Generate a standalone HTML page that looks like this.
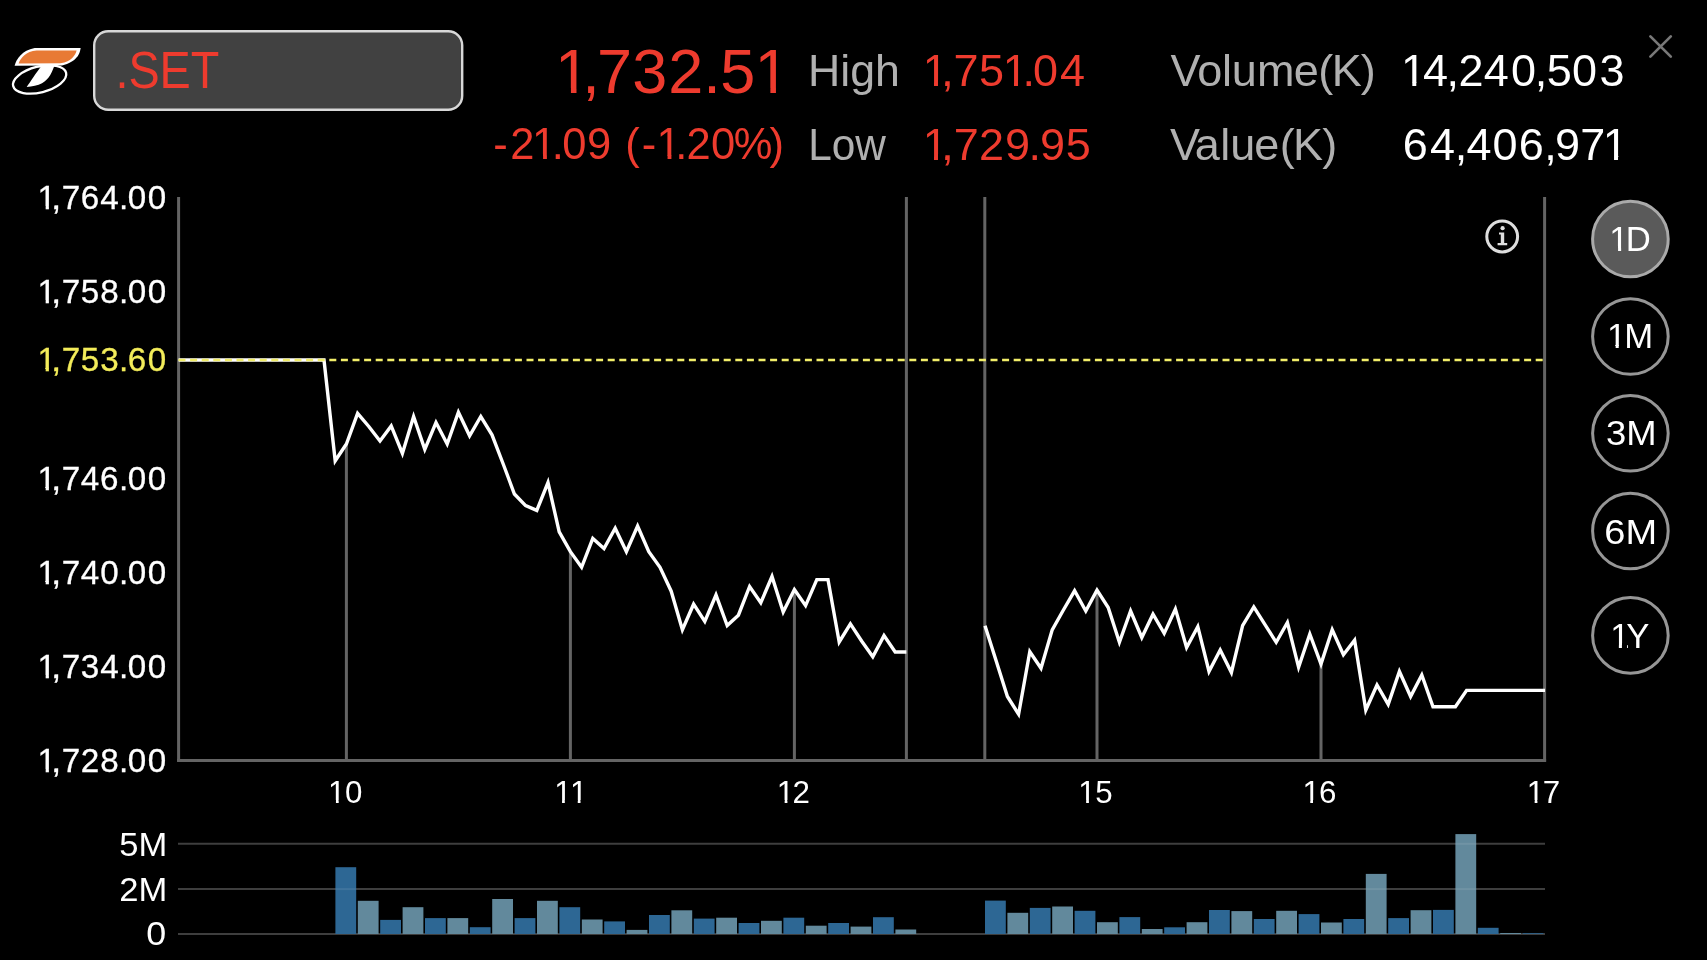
<!DOCTYPE html>
<html><head><meta charset="utf-8"><title>SET Chart</title>
<style>
html,body{margin:0;padding:0;background:#000;width:1707px;height:960px;overflow:hidden}
svg{display:block;font-family:"Liberation Sans", sans-serif;will-change:transform}
</style></head><body>
<svg width="1707" height="960" viewBox="0 0 1707 960">
<rect width="1707" height="960" fill="#000"/>
<g id="logo">
<path d="M34.6,48.1 L80.6,48.1 C80,54 76.5,62 62,65.5 L14.6,65.7 C16.5,59 22,50.5 34.6,48.1 Z" fill="#ffffff"/>
<path d="M36.6,50.5 L76.6,50.5 C75.5,55 71.5,61.5 60.5,63.3 L18.6,63.4 C20.5,58 26,51.2 36.6,50.5 Z" fill="#e87a35"/>
<ellipse cx="39.66" cy="79.48" rx="27.26" ry="12.93" transform="rotate(-14.1 39.66 79.48)" fill="none" stroke="#ffffff" stroke-width="2.3"/>
<path d="M41.9,65.2 L54.6,65.2 C52,72 49.5,79 42,83.2 C38,85.4 32,86.6 26.7,86.9 C30.5,81.5 36,73 41.9,65.2 Z" fill="#ffffff"/>
</g>
<rect x="94.2" y="31.2" width="368" height="78.6" rx="14" ry="14" fill="#414141" stroke="#d8d8d8" stroke-width="2.4"/>
<text x="115.43" y="88" font-size="51.5" fill="#ee3b2e" textLength="103.95" lengthAdjust="spacingAndGlyphs">.SET</text>
<text x="555.08 582.30 597.09 632.34 668.21 703.26 720.16 754.54" y="92.5" font-size="63" fill="#ee3b2e">1,732.51</text><rect x="558.38" y="85.29" width="11.62" height="8.71" fill="#000" shape-rendering="crispEdges"/><rect x="577.00" y="85.29" width="10.56" height="8.71" fill="#000" shape-rendering="crispEdges"/><rect x="570" y="87.79" width="1" height="6.21" fill="#000" fill-opacity="0.921" shape-rendering="crispEdges"/><rect x="576" y="87.79" width="1" height="6.21" fill="#000" fill-opacity="0.511" shape-rendering="crispEdges"/><rect x="757.84" y="85.29" width="12.16" height="8.71" fill="#000" shape-rendering="crispEdges"/><rect x="776.00" y="85.29" width="12.00" height="8.71" fill="#000" shape-rendering="crispEdges"/><rect x="770" y="87.79" width="1" height="6.21" fill="#000" fill-opacity="0.382" shape-rendering="crispEdges"/><rect x="775" y="87.79" width="1" height="6.21" fill="#000" fill-opacity="0.050" shape-rendering="crispEdges"/>
<text x="808.02" y="86" font-size="45" fill="#b0b0b0" textLength="91.94" lengthAdjust="spacingAndGlyphs">High</text>
<text x="922.69 941.15 953.56 979.03 1002.69 1022.45 1033.09 1060.03" y="86" font-size="45" fill="#ee3b2e">1,751.04</text><rect x="924.62" y="80.14" width="9.38" height="7.36" fill="#000" shape-rendering="crispEdges"/><rect x="938.00" y="80.14" width="6.79" height="7.36" fill="#000" shape-rendering="crispEdges"/><rect x="1004.62" y="80.14" width="9.38" height="7.36" fill="#000" shape-rendering="crispEdges"/><rect x="1018.00" y="80.14" width="8.16" height="7.36" fill="#000" shape-rendering="crispEdges"/>
<text x="1170.39 1197.19 1221.99 1231.82 1257.05 1293.83 1318.34 1331.70 1360.87" y="86" font-size="45" fill="#b0b0b0">Volume(K)</text>
<text x="1400.99 1422.93 1446.55 1458.49 1483.63 1511.09 1534.85 1546.83 1572.09 1599.52" y="86.3" font-size="45" fill="#ffffff">14,240,503</text><rect x="1402.92" y="80.44" width="9.08" height="7.36" fill="#000" shape-rendering="crispEdges"/><rect x="1417.00" y="80.44" width="6.56" height="7.36" fill="#000" shape-rendering="crispEdges"/><rect x="1412" y="82.94" width="1" height="4.86" fill="#000" fill-opacity="0.305" shape-rendering="crispEdges"/><rect x="1416" y="82.94" width="1" height="4.86" fill="#000" fill-opacity="0.718" shape-rendering="crispEdges"/>
<text x="493.26 510.20 532.12 551.66 562.30 586.91 610.26 625.14 641.86 656.62 675.26 686.50 711.00 733.76 769.48" y="159.4" font-size="43.5" fill="#ee3b2e">-21.09&#160;(-1.20%)</text><rect x="533.93" y="153.65" width="9.07" height="7.25" fill="#000" shape-rendering="crispEdges"/><rect x="547.00" y="153.65" width="8.23" height="7.25" fill="#000" shape-rendering="crispEdges"/><rect x="543" y="156.15" width="1" height="4.75" fill="#000" fill-opacity="0.055" shape-rendering="crispEdges"/><rect x="546" y="156.15" width="1" height="4.75" fill="#000" fill-opacity="0.101" shape-rendering="crispEdges"/><rect x="658.43" y="153.65" width="8.57" height="7.25" fill="#000" shape-rendering="crispEdges"/><rect x="672.00" y="153.65" width="6.83" height="7.25" fill="#000" shape-rendering="crispEdges"/><rect x="667" y="156.15" width="1" height="4.75" fill="#000" fill-opacity="0.555" shape-rendering="crispEdges"/><rect x="671" y="156.15" width="1" height="4.75" fill="#000" fill-opacity="0.601" shape-rendering="crispEdges"/>
<text x="808.21" y="160.1" font-size="45" fill="#b0b0b0" textLength="77.76" lengthAdjust="spacingAndGlyphs">Low</text>
<text x="922.69 941.15 953.76 978.99 1005.10 1028.55 1040.00 1065.63" y="160" font-size="45" fill="#ee3b2e">1,729.95</text><rect x="924.62" y="154.14" width="9.38" height="7.36" fill="#000" shape-rendering="crispEdges"/><rect x="938.00" y="154.14" width="6.79" height="7.36" fill="#000" shape-rendering="crispEdges"/>
<text x="1169.99 1194.73 1220.29 1230.22 1254.33 1279.84 1293.10 1322.27" y="159.7" font-size="45" fill="#b0b0b0">Value(K)</text>
<text x="1402.70 1430.08 1454.67 1466.47 1492.61 1518.73 1544.29 1554.88 1580.19 1602.72" y="160.2" font-size="45" fill="#ffffff">64,406,971</text><rect x="1604.65" y="154.34" width="9.35" height="7.36" fill="#000" shape-rendering="crispEdges"/><rect x="1619.00" y="154.34" width="8.05" height="7.36" fill="#000" shape-rendering="crispEdges"/><rect x="1614" y="156.84" width="1" height="4.86" fill="#000" fill-opacity="0.039" shape-rendering="crispEdges"/><rect x="1618" y="156.84" width="1" height="4.86" fill="#000" fill-opacity="0.984" shape-rendering="crispEdges"/>
<text x="37.46 51.79 61.85 80.65 100.27 118.89 127.77 147.67" y="208.8" font-size="33.2" fill="#ffffff" stroke="#ffffff" stroke-width="0.3">1,764.00</text><rect x="38.49" y="203.82" width="6.51" height="6.48" fill="#000" shape-rendering="crispEdges"/><rect x="49.00" y="203.82" width="5.37" height="6.48" fill="#000" shape-rendering="crispEdges"/><rect x="45" y="206.32" width="1" height="3.98" fill="#000" fill-opacity="0.660" shape-rendering="crispEdges"/><rect x="48" y="206.32" width="1" height="3.98" fill="#000" fill-opacity="0.105" shape-rendering="crispEdges"/>
<text x="37.46 51.79 61.85 80.80 100.17 118.89 127.77 147.67" y="302.6" font-size="33.2" fill="#ffffff" stroke="#ffffff" stroke-width="0.3">1,758.00</text><rect x="38.49" y="297.62" width="6.51" height="6.48" fill="#000" shape-rendering="crispEdges"/><rect x="49.00" y="297.62" width="5.37" height="6.48" fill="#000" shape-rendering="crispEdges"/><rect x="45" y="300.12" width="1" height="3.98" fill="#000" fill-opacity="0.660" shape-rendering="crispEdges"/><rect x="48" y="300.12" width="1" height="3.98" fill="#000" fill-opacity="0.105" shape-rendering="crispEdges"/>
<text x="37.46 51.79 61.85 80.80 100.27 118.89 127.65 147.67" y="371.4" font-size="33.2" fill="#f3ec5a" stroke="#f3ec5a" stroke-width="0.3">1,753.60</text><rect x="38.49" y="366.42" width="6.51" height="6.48" fill="#000" shape-rendering="crispEdges"/><rect x="49.00" y="366.42" width="5.37" height="6.48" fill="#000" shape-rendering="crispEdges"/><rect x="45" y="368.92" width="1" height="3.98" fill="#000" fill-opacity="0.660" shape-rendering="crispEdges"/><rect x="48" y="368.92" width="1" height="3.98" fill="#000" fill-opacity="0.105" shape-rendering="crispEdges"/>
<text x="37.46 51.79 61.85 80.87 100.05 118.89 127.77 147.67" y="490.2" font-size="33.2" fill="#ffffff" stroke="#ffffff" stroke-width="0.3">1,746.00</text><rect x="38.49" y="485.22" width="6.51" height="6.48" fill="#000" shape-rendering="crispEdges"/><rect x="49.00" y="485.22" width="5.37" height="6.48" fill="#000" shape-rendering="crispEdges"/><rect x="45" y="487.72" width="1" height="3.98" fill="#000" fill-opacity="0.660" shape-rendering="crispEdges"/><rect x="48" y="487.72" width="1" height="3.98" fill="#000" fill-opacity="0.105" shape-rendering="crispEdges"/>
<text x="37.46 51.79 61.85 80.87 100.17 118.89 127.77 147.67" y="584.1" font-size="33.2" fill="#ffffff" stroke="#ffffff" stroke-width="0.3">1,740.00</text><rect x="38.49" y="579.12" width="6.51" height="6.48" fill="#000" shape-rendering="crispEdges"/><rect x="49.00" y="579.12" width="5.37" height="6.48" fill="#000" shape-rendering="crispEdges"/><rect x="45" y="581.62" width="1" height="3.98" fill="#000" fill-opacity="0.660" shape-rendering="crispEdges"/><rect x="48" y="581.62" width="1" height="3.98" fill="#000" fill-opacity="0.105" shape-rendering="crispEdges"/>
<text x="37.46 51.79 61.85 80.87 100.27 118.89 127.77 147.67" y="677.9" font-size="33.2" fill="#ffffff" stroke="#ffffff" stroke-width="0.3">1,734.00</text><rect x="38.49" y="672.92" width="6.51" height="6.48" fill="#000" shape-rendering="crispEdges"/><rect x="49.00" y="672.92" width="5.37" height="6.48" fill="#000" shape-rendering="crispEdges"/><rect x="45" y="675.42" width="1" height="3.98" fill="#000" fill-opacity="0.660" shape-rendering="crispEdges"/><rect x="48" y="675.42" width="1" height="3.98" fill="#000" fill-opacity="0.105" shape-rendering="crispEdges"/>
<text x="37.46 51.79 61.85 80.77 100.17 118.89 127.77 147.67" y="771.7" font-size="33.2" fill="#ffffff" stroke="#ffffff" stroke-width="0.3">1,728.00</text><rect x="38.49" y="766.72" width="6.51" height="6.48" fill="#000" shape-rendering="crispEdges"/><rect x="49.00" y="766.72" width="5.37" height="6.48" fill="#000" shape-rendering="crispEdges"/><rect x="45" y="769.22" width="1" height="3.98" fill="#000" fill-opacity="0.660" shape-rendering="crispEdges"/><rect x="48" y="769.22" width="1" height="3.98" fill="#000" fill-opacity="0.105" shape-rendering="crispEdges"/>
<text x="328.08 344.90" y="802.8" font-size="31.3" fill="#ffffff">10</text><rect x="328.96" y="797.96" width="6.04" height="6.34" fill="#000" shape-rendering="crispEdges"/><rect x="339.00" y="797.96" width="6.46" height="6.34" fill="#000" shape-rendering="crispEdges"/><rect x="335" y="800.46" width="1" height="3.84" fill="#000" fill-opacity="0.947" shape-rendering="crispEdges"/><rect x="338" y="800.46" width="1" height="3.84" fill="#000" fill-opacity="0.287" shape-rendering="crispEdges"/>
<text x="554.18 569.88" y="802.8" font-size="31.3" fill="#ffffff">11</text><rect x="555.06" y="797.96" width="6.94" height="6.34" fill="#000" shape-rendering="crispEdges"/><rect x="565.00" y="797.96" width="6.56" height="6.34" fill="#000" shape-rendering="crispEdges"/><rect x="562" y="800.46" width="1" height="3.84" fill="#000" fill-opacity="0.047" shape-rendering="crispEdges"/><rect x="564" y="800.46" width="1" height="3.84" fill="#000" fill-opacity="0.187" shape-rendering="crispEdges"/><rect x="570.76" y="797.96" width="6.24" height="6.34" fill="#000" shape-rendering="crispEdges"/><rect x="581.00" y="797.96" width="6.26" height="6.34" fill="#000" shape-rendering="crispEdges"/><rect x="577" y="800.46" width="1" height="3.84" fill="#000" fill-opacity="0.747" shape-rendering="crispEdges"/><rect x="580" y="800.46" width="1" height="3.84" fill="#000" fill-opacity="0.487" shape-rendering="crispEdges"/>
<text x="776.78 792.60" y="802.8" font-size="31.3" fill="#ffffff">12</text><rect x="777.66" y="797.96" width="6.34" height="6.34" fill="#000" shape-rendering="crispEdges"/><rect x="788.00" y="797.96" width="5.77" height="6.34" fill="#000" shape-rendering="crispEdges"/><rect x="784" y="800.46" width="1" height="3.84" fill="#000" fill-opacity="0.647" shape-rendering="crispEdges"/><rect x="787" y="800.46" width="1" height="3.84" fill="#000" fill-opacity="0.587" shape-rendering="crispEdges"/>
<text x="1078.28 1095.13" y="802.8" font-size="31.3" fill="#ffffff">15</text><rect x="1079.16" y="797.96" width="6.84" height="6.34" fill="#000" shape-rendering="crispEdges"/><rect x="1089.00" y="797.96" width="6.66" height="6.34" fill="#000" shape-rendering="crispEdges"/><rect x="1086" y="800.46" width="1" height="3.84" fill="#000" fill-opacity="0.147" shape-rendering="crispEdges"/><rect x="1088" y="800.46" width="1" height="3.84" fill="#000" fill-opacity="0.087" shape-rendering="crispEdges"/>
<text x="1302.38 1318.89" y="802.8" font-size="31.3" fill="#ffffff">16</text><rect x="1303.26" y="797.96" width="6.74" height="6.34" fill="#000" shape-rendering="crispEdges"/><rect x="1314.00" y="797.96" width="5.76" height="6.34" fill="#000" shape-rendering="crispEdges"/><rect x="1310" y="800.46" width="1" height="3.84" fill="#000" fill-opacity="0.247" shape-rendering="crispEdges"/><rect x="1313" y="800.46" width="1" height="3.84" fill="#000" fill-opacity="0.987" shape-rendering="crispEdges"/>
<text x="1526.78 1542.68" y="802.8" font-size="31.3" fill="#ffffff">17</text><rect x="1527.66" y="797.96" width="6.34" height="6.34" fill="#000" shape-rendering="crispEdges"/><rect x="1538.00" y="797.96" width="5.89" height="6.34" fill="#000" shape-rendering="crispEdges"/><rect x="1534" y="800.46" width="1" height="3.84" fill="#000" fill-opacity="0.647" shape-rendering="crispEdges"/><rect x="1537" y="800.46" width="1" height="3.84" fill="#000" fill-opacity="0.587" shape-rendering="crispEdges"/>
<text x="119.38" y="855.5" font-size="32.5" fill="#ffffff" textLength="48.06" lengthAdjust="spacingAndGlyphs">5M</text>
<text x="119.38" y="900.8" font-size="32.5" fill="#ffffff" textLength="48.06" lengthAdjust="spacingAndGlyphs">2M</text>
<text x="146.37" y="945.3" font-size="32.5" fill="#ffffff" textLength="19.93" lengthAdjust="spacingAndGlyphs">0</text>
<path d="M1650.4,36.4 L1670.8,56.6 M1670.8,36.4 L1650.4,56.6" stroke="#787878" stroke-width="2.7" stroke-linecap="round" fill="none"/>
<line x1="178.6" y1="197" x2="178.6" y2="761.8" stroke="#646464" stroke-width="3"/>
<line x1="1544.6" y1="197" x2="1544.6" y2="761.8" stroke="#646464" stroke-width="3"/>
<line x1="906.4" y1="197" x2="906.4" y2="760" stroke="#646464" stroke-width="3"/>
<line x1="984.8" y1="197" x2="984.8" y2="760" stroke="#646464" stroke-width="3"/>
<line x1="177.1" y1="760.5" x2="1546.1" y2="760.5" stroke="#646464" stroke-width="3"/>
<line x1="346.4" y1="444" x2="346.4" y2="760" stroke="#646464" stroke-width="3"/>
<line x1="570.4" y1="551.7" x2="570.4" y2="760" stroke="#646464" stroke-width="3"/>
<line x1="794.4" y1="589.5" x2="794.4" y2="760" stroke="#646464" stroke-width="3"/>
<line x1="1097" y1="590.2" x2="1097" y2="760" stroke="#646464" stroke-width="3"/>
<line x1="1321" y1="664" x2="1321" y2="760" stroke="#646464" stroke-width="3"/>
<polyline points="178.6,360 324.0,360.0 335.2,460.8 346.4,444.0 357.6,413.4 368.8,426.5 380.0,441.0 391.2,425.9 402.4,453.5 413.6,416.5 424.8,449.4 436.0,422.5 447.2,444.0 458.4,412.3 469.6,435.8 480.8,416.5 492.0,434.8 503.2,464.0 514.4,494.0 525.6,505.6 536.8,510.4 548.0,482.5 559.2,531.9 570.4,551.7 581.6,567.3 592.8,538.5 604.0,548.5 615.2,528.2 626.4,551.7 637.6,526.1 648.8,551.7 660.0,567.3 671.2,591.2 682.4,629.8 693.6,604.2 704.8,621.5 716.0,595.0 727.2,625.6 738.4,615.2 749.6,586.5 760.8,602.7 772.0,576.5 783.2,612.0 794.4,589.5 805.6,605.6 816.8,579.6 828.0,579.6 839.2,642.0 850.4,623.9 861.6,641.0 872.8,656.7 884.0,635.6 895.2,652.0 906.4,652.0" fill="none" stroke="#ffffff" stroke-width="3.4" stroke-linejoin="miter"/>
<polyline points="985.0,625.7 996.2,661.0 1007.4,696.5 1018.6,714.2 1029.8,651.7 1041.0,668.3 1052.2,629.8 1063.4,610.0 1074.6,590.8 1085.8,611.0 1097.0,590.2 1108.2,607.5 1119.4,642.3 1130.6,611.0 1141.8,637.5 1153.0,614.2 1164.2,633.4 1175.4,609.0 1186.6,647.5 1197.8,626.7 1209.0,671.5 1220.2,650.0 1231.4,672.5 1242.6,625.6 1253.8,606.9 1265.0,624.6 1276.2,642.3 1287.4,622.5 1298.6,667.3 1309.8,634.0 1321.0,664.0 1332.2,629.8 1343.4,654.8 1354.6,640.2 1365.8,710.0 1377.0,685.0 1388.2,704.3 1399.4,671.5 1410.6,696.5 1421.8,674.9 1433.0,706.7 1444.2,706.7 1455.4,706.7 1466.6,690.4 1477.8,690.4 1489.0,690.4 1500.2,690.4 1511.4,690.4 1522.6,690.4 1533.8,690.4 1545.0,690.4" fill="none" stroke="#ffffff" stroke-width="3.4" stroke-linejoin="miter"/>
<line x1="178.5" y1="360" x2="1544" y2="360" stroke="#f2ee6a" stroke-width="2.7" stroke-dasharray="7,4.6"/>
<circle cx="1502.2" cy="236.5" r="15.4" fill="none" stroke="#dedede" stroke-width="3"/>
<circle cx="1502.6" cy="228.2" r="2.1" fill="#dedede"/>
<path d="M1499,232.6 L1504.2,232.6 L1504.2,243 L1507.2,243 L1507.2,245.2 L1497.6,245.2 L1497.6,243 L1500.8,243 L1500.8,234.6 L1499,234.6 Z" fill="#dedede"/>
<circle cx="1630.4" cy="239" r="37.8" fill="#5a5a5a" stroke="#aaaaaa" stroke-width="3"/>
<text x="1609.33 1625.68" y="250.9" font-size="34.7" fill="#ffffff">1D</text><rect x="1610.48" y="245.81" width="7.52" height="6.59" fill="#5a5a5a" shape-rendering="crispEdges"/><rect x="1622.00" y="245.81" width="6.12" height="6.59" fill="#5a5a5a" shape-rendering="crispEdges"/><rect x="1618" y="248.31" width="1" height="4.09" fill="#5a5a5a" fill-opacity="0.061" shape-rendering="crispEdges"/><rect x="1621" y="248.31" width="1" height="4.09" fill="#5a5a5a" fill-opacity="0.873" shape-rendering="crispEdges"/>
<circle cx="1630.4" cy="336.5" r="37.8" fill="#000" stroke="#969696" stroke-width="3"/>
<text x="1606.93 1624.15" y="348.3" font-size="34.7" fill="#ffffff">1M</text><rect x="1608.08" y="343.21" width="6.92" height="6.59" fill="#000" shape-rendering="crispEdges"/><rect x="1619.00" y="343.21" width="7.04" height="6.59" fill="#000" shape-rendering="crispEdges"/><rect x="1615" y="345.71" width="1" height="4.09" fill="#000" fill-opacity="0.661" shape-rendering="crispEdges"/><rect x="1618" y="345.71" width="1" height="4.09" fill="#000" fill-opacity="0.273" shape-rendering="crispEdges"/>
<circle cx="1630.4" cy="433.3" r="37.8" fill="#000" stroke="#969696" stroke-width="3"/>
<text x="1605.90" y="445.2" font-size="34.7" fill="#ffffff" textLength="50.60" lengthAdjust="spacingAndGlyphs">3M</text>
<circle cx="1630.4" cy="531" r="37.8" fill="#000" stroke="#969696" stroke-width="3"/>
<text x="1604.36" y="543.5" font-size="34.7" fill="#ffffff" textLength="52.80" lengthAdjust="spacingAndGlyphs">6M</text>
<circle cx="1630.4" cy="635.4" r="37.8" fill="#000" stroke="#969696" stroke-width="3"/>
<text x="1610.13 1626.33" y="648" font-size="34.7" fill="#ffffff">1Y</text><rect x="1611.28" y="642.91" width="6.72" height="6.59" fill="#000" shape-rendering="crispEdges"/><rect x="1622.00" y="642.91" width="4.69" height="6.59" fill="#000" shape-rendering="crispEdges"/><rect x="1618" y="645.41" width="1" height="4.09" fill="#000" fill-opacity="0.861" shape-rendering="crispEdges"/><rect x="1621" y="645.41" width="1" height="4.09" fill="#000" fill-opacity="0.073" shape-rendering="crispEdges"/>
<line x1="178" y1="843.8" x2="1545" y2="843.8" stroke="#3e3e3e" stroke-width="2"/>
<line x1="178" y1="889.1" x2="1545" y2="889.1" stroke="#3e3e3e" stroke-width="2"/>
<line x1="178" y1="934.0" x2="1545" y2="934.0" stroke="#3e3e3e" stroke-width="2"/>
<rect x="335.4" y="867.2" width="20.8" height="66.8" fill="#2d6794"/><rect x="357.8" y="900.8" width="20.8" height="33.2" fill="#62899c"/><rect x="380.2" y="919.9" width="20.8" height="14.1" fill="#2d6794"/><rect x="402.6" y="907.2" width="20.8" height="26.8" fill="#62899c"/><rect x="425.0" y="918.1" width="20.8" height="15.9" fill="#2d6794"/><rect x="447.4" y="918.1" width="20.8" height="15.9" fill="#62899c"/><rect x="469.8" y="927.2" width="20.8" height="6.8" fill="#2d6794"/><rect x="492.2" y="899.0" width="20.8" height="35.0" fill="#62899c"/><rect x="514.6" y="918.1" width="20.8" height="15.9" fill="#2d6794"/><rect x="537.0" y="900.8" width="20.8" height="33.2" fill="#62899c"/><rect x="559.4" y="907.2" width="20.8" height="26.8" fill="#2d6794"/><rect x="581.8" y="919.5" width="20.8" height="14.5" fill="#62899c"/><rect x="604.2" y="921.4" width="20.8" height="12.6" fill="#2d6794"/><rect x="626.6" y="929.9" width="20.8" height="4.1" fill="#62899c"/><rect x="649.0" y="915.0" width="20.8" height="19.0" fill="#2d6794"/><rect x="671.4" y="910.3" width="20.8" height="23.7" fill="#62899c"/><rect x="693.8" y="918.6" width="20.8" height="15.4" fill="#2d6794"/><rect x="716.2" y="917.7" width="20.8" height="16.3" fill="#62899c"/><rect x="738.6" y="923.0" width="20.8" height="11.0" fill="#2d6794"/><rect x="761.0" y="920.8" width="20.8" height="13.2" fill="#62899c"/><rect x="783.4" y="917.7" width="20.8" height="16.3" fill="#2d6794"/><rect x="805.8" y="925.7" width="20.8" height="8.3" fill="#62899c"/><rect x="828.2" y="923.0" width="20.8" height="11.0" fill="#2d6794"/><rect x="850.6" y="926.6" width="20.8" height="7.4" fill="#62899c"/><rect x="873.0" y="917.2" width="20.8" height="16.8" fill="#2d6794"/><rect x="895.4" y="929.5" width="20.8" height="4.5" fill="#62899c"/>
<rect x="985.0" y="900.6" width="20.8" height="33.4" fill="#2d6794"/><rect x="1007.4" y="912.8" width="20.8" height="21.2" fill="#62899c"/><rect x="1029.8" y="907.9" width="20.8" height="26.1" fill="#2d6794"/><rect x="1052.2" y="906.5" width="20.8" height="27.5" fill="#62899c"/><rect x="1074.6" y="910.8" width="20.8" height="23.2" fill="#2d6794"/><rect x="1097.0" y="922.2" width="20.8" height="11.8" fill="#62899c"/><rect x="1119.4" y="917.1" width="20.8" height="16.9" fill="#2d6794"/><rect x="1141.8" y="929.0" width="20.8" height="5.0" fill="#62899c"/><rect x="1164.2" y="927.3" width="20.8" height="6.7" fill="#2d6794"/><rect x="1186.6" y="922.2" width="20.8" height="11.8" fill="#62899c"/><rect x="1209.0" y="910.0" width="20.8" height="24.0" fill="#2d6794"/><rect x="1231.4" y="911.1" width="20.8" height="22.9" fill="#62899c"/><rect x="1253.8" y="919.0" width="20.8" height="15.0" fill="#2d6794"/><rect x="1276.2" y="910.8" width="20.8" height="23.2" fill="#62899c"/><rect x="1298.6" y="914.1" width="20.8" height="19.9" fill="#2d6794"/><rect x="1321.0" y="922.5" width="20.8" height="11.5" fill="#62899c"/><rect x="1343.4" y="919.0" width="20.8" height="15.0" fill="#2d6794"/><rect x="1365.8" y="873.9" width="20.8" height="60.1" fill="#62899c"/><rect x="1388.2" y="918.1" width="20.8" height="15.9" fill="#2d6794"/><rect x="1410.6" y="910.2" width="20.8" height="23.8" fill="#62899c"/><rect x="1433.0" y="909.9" width="20.8" height="24.1" fill="#2d6794"/><rect x="1455.4" y="834.1" width="20.8" height="99.9" fill="#62899c"/><rect x="1477.8" y="927.8" width="20.8" height="6.2" fill="#2d6794"/><rect x="1500.2" y="933.0" width="20.8" height="1.0" fill="#62899c"/><rect x="1522.6" y="933.2" width="20.8" height="0.8" fill="#2d6794"/>
<rect x="1455.4" y="842.8" width="20.8" height="2" fill="#ffffff" fill-opacity="0.09"/>
<rect x="335.4" y="888.1" width="20.8" height="2" fill="#ffffff" fill-opacity="0.09"/>
<rect x="1365.8" y="888.1" width="20.8" height="2" fill="#ffffff" fill-opacity="0.09"/>
<rect x="1455.4" y="888.1" width="20.8" height="2" fill="#ffffff" fill-opacity="0.09"/>
</svg>
</body></html>
